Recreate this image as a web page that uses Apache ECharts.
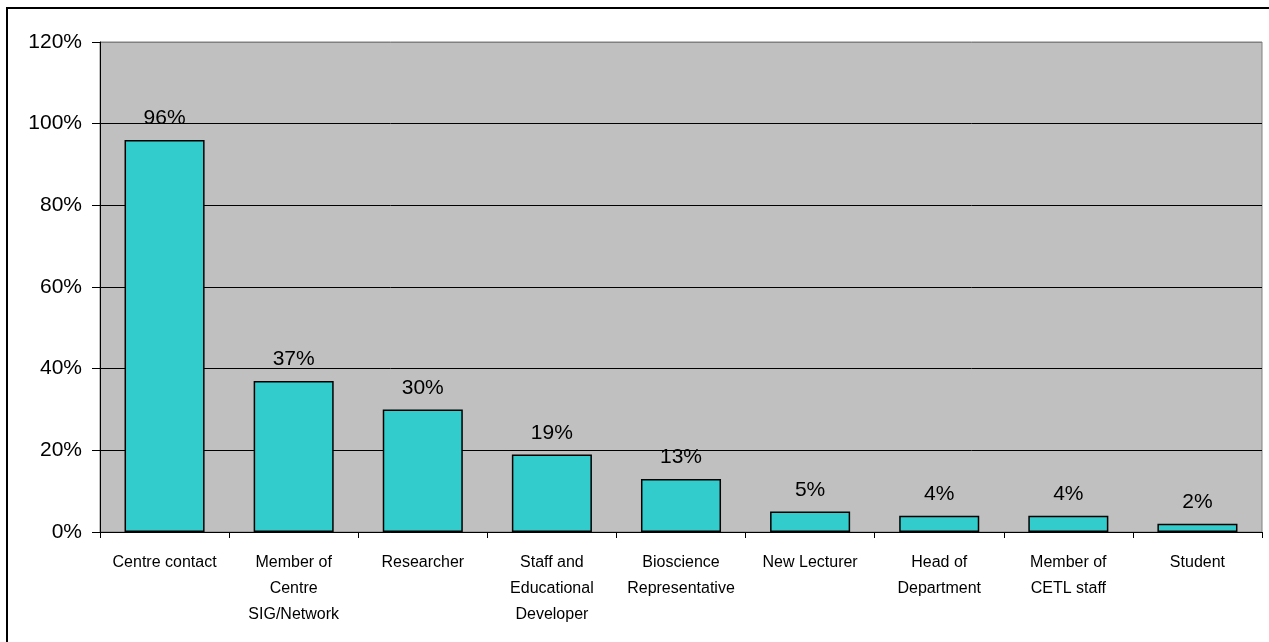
<!DOCTYPE html>
<html>
<head>
<meta charset="utf-8">
<script src="https://cdn.jsdelivr.net/npm/echarts@6/dist/echarts.min.js"></script>
<style>
html,body{margin:0;padding:0;background:#fff;}
#c{width:1269px;height:642px;}
</style>
</head>
<body>
<div id="c"></div>
<script>
var categories = ['Centre contact', 'Member of\nCentre\nSIG/Network', 'Researcher', 'Staff and\nEducational\nDeveloper', 'Bioscience\nRepresentative', 'New Lecturer', 'Head of\nDepartment', 'Member of\nCETL staff', 'Student'];
var values = [96, 37, 30, 19, 13, 5, 4, 4, 2];
var yTicks = [0, 20, 40, 60, 80, 100, 120];

var chart = echarts.init(document.getElementById('c'), null, {renderer: 'canvas'});
chart.setOption({
  animation: false,
  backgroundColor: '#ffffff',
  graphic: [{
    type: 'rect',
    shape: {x: 7, y: 8, width: 1300, height: 700},
    style: {fill: 'none', stroke: '#000', lineWidth: 2},
    silent: true, z: 100
  }],
  grid: {
    left: 100, right: 7, top: 42, bottom: 110,
    show: true, backgroundColor: '#C0C0C0', borderColor: '#808080', borderWidth: 1
  },
  xAxis: {
    type: 'category',
    data: categories,
    axisLine: {show: true, lineStyle: {color: '#000', width: 1}},
    axisTick: {show: true, length: 6, lineStyle: {color: '#000'}},
    axisLabel: {
      interval: 0, margin: 18, color: '#000',
      fontFamily: '"Liberation Sans Narrow", "Arial Narrow", "Liberation Sans", Arial, sans-serif',
      fontSize: 16, lineHeight: 26
    },
    splitLine: {show: false}
  },
  yAxis: {
    type: 'value',
    min: yTicks[0], max: yTicks[yTicks.length - 1], interval: 20,
    axisLine: {show: true, lineStyle: {color: '#000', width: 1}},
    axisTick: {show: true, length: 8, lineStyle: {color: '#000'}},
    axisLabel: {
      margin: 18, color: '#000',
      fontFamily: '"Liberation Sans", Arial, sans-serif', fontSize: 21,
      formatter: function (v) { return v + '%'; }
    },
    splitLine: {show: true, lineStyle: {color: ['#000', '#000', '#000', '#000', '#000', '#000', '#808080'], width: 1}}
  },
  series: [{
    type: 'bar',
    data: values,
    barCategoryGap: '38%',
    itemStyle: {color: '#33CCCC', borderColor: '#000', borderWidth: 1.5},
    label: {
      show: true, position: 'top', distance: 11, color: '#000',
      fontFamily: '"Liberation Sans", Arial, sans-serif', fontSize: 21,
      formatter: function (p) { return p.value + '%'; }
    }
  }]
});
</script>
</body>
</html>
